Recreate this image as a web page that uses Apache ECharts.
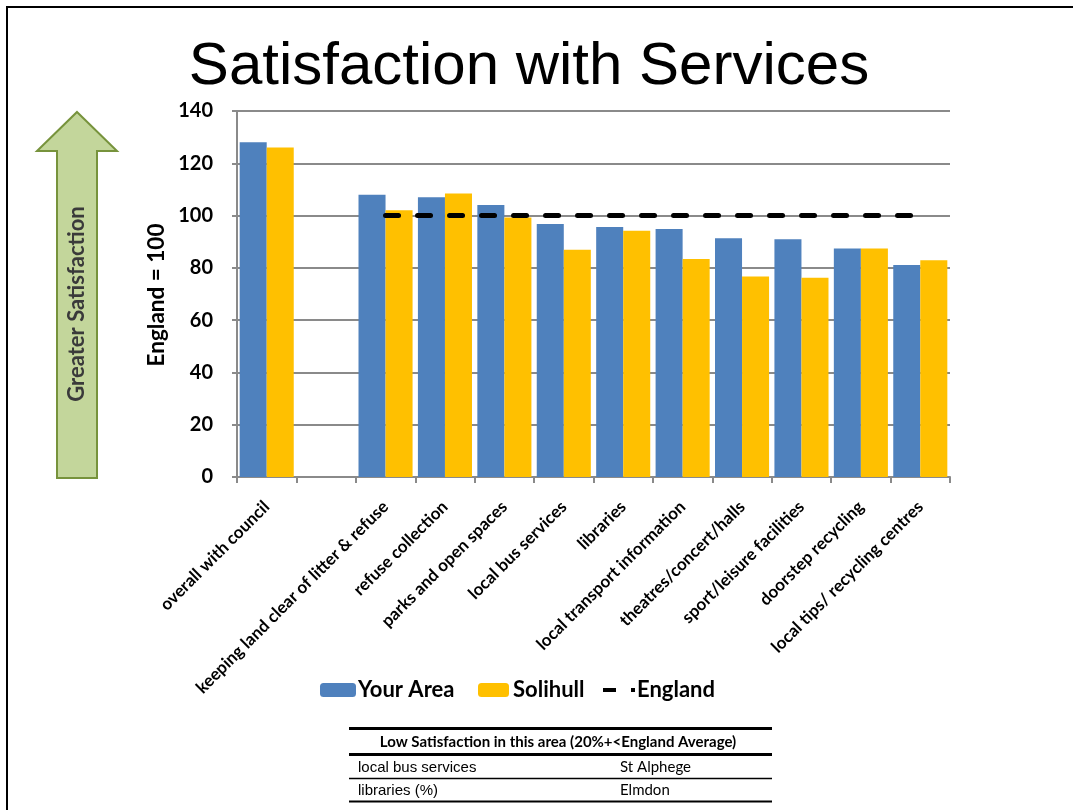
<!DOCTYPE html>
<html>
<head>
<meta charset="utf-8">
<title>Satisfaction with Services</title>
<script src="https://cdn.jsdelivr.net/npm/echarts@6/dist/echarts.min.js"></script>
<style>
  html, body { margin: 0; padding: 0; background: #fff; }
  #chart { width: 1073px; height: 810px; }
</style>
</head>
<body>
<div id="chart"></div>
<script>
// Service categories (the blank entry leaves a gap after the overall score)
const categories = [
  'overall with council', '',
  'keeping land clear of litter & refuse', 'refuse collection',
  'parks and open spaces', 'local bus services', 'libraries',
  'local transport information', 'theatres/concert/halls',
  'sport/leisure facilities', 'doorstep recycling',
  'local tips/ recycling centres'
];
// Index values, England = 100
const yourArea = [128, null, 108, 107, 104, 96.8, 95.6, 94.9, 91.3, 90.9, 87.4, 81.1];
const solihull = [126, null, 102, 108.4, 99.3, 86.9, 94.2, 83.4, 76.7, 76.2, 87.4, 82.9];
const england  = [null, null, 100, 100, 100, 100, 100, 100, 100, 100, 100, 100];

// Low-satisfaction table below the chart
const tableTitle = 'Low Satisfaction in this area (20%+<England Average)';
const tableRows = [
  ['local bus services', 'St Alphege'],
  ['libraries (%)', 'Elmdon']
];

const chart = echarts.init(document.getElementById('chart'), null, { renderer: 'canvas' });

const labelFont = 'Lato, "Open Sans", sans-serif';
const gridColor = '#8a8a8a';

// Table graphics
const tX0 = 349, tX1 = 772;
const tableGraphics = [
  { type: 'line', shape: { x1: tX0, y1: 728.5, x2: tX1, y2: 728.5 }, style: { stroke: '#000', lineWidth: 3 } },
  { type: 'text', style: { x: 558, y: 742, text: tableTitle, align: 'center', verticalAlign: 'middle',
      font: 'bold 15px ' + labelFont, fill: '#000' } },
  { type: 'line', shape: { x1: tX0, y1: 754.5, x2: tX1, y2: 754.5 }, style: { stroke: '#000', lineWidth: 3 } }
];
const rowY = [768, 791];
const rowLineY = [778.5, 801.5];
tableRows.forEach((row, i) => {
  tableGraphics.push(
    { type: 'text', style: { x: 358, y: rowY[i], text: row[0], align: 'left', verticalAlign: 'middle',
        font: '15px "Liberation Sans", Arial, sans-serif', fill: '#000' } },
    { type: 'text', style: { x: 620, y: rowY[i] - 1, text: row[1], align: 'left', verticalAlign: 'middle',
        font: '15px ' + labelFont, fill: '#000' } },
    { type: 'line', shape: { x1: tX0, y1: rowLineY[i], x2: tX1, y2: rowLineY[i] },
      style: { stroke: '#000', lineWidth: i === tableRows.length - 1 ? 2 : 1.5 } }
  );
});

const legendText = { fontFamily: labelFont, fontWeight: 'bold', fontSize: 22, color: '#000' };

const option = {
  backgroundColor: '#fff',
  animation: false,
  grid: { left: 237, right: 123, top: 111, bottom: 333, containLabel: false },
  xAxis: {
    type: 'category',
    data: categories,
    boundaryGap: true,
    axisLine: { lineStyle: { color: gridColor, width: 2 } },
    axisTick: { show: true, length: 6, lineStyle: { color: gridColor, width: 2 } },
    axisLabel: {
      interval: 0, rotate: 45, margin: 27,
      fontFamily: labelFont, fontWeight: 'bold', fontSize: 17, color: '#000'
    },
    splitLine: { show: false }
  },
  yAxis: {
    type: 'value',
    min: 0, max: 140, interval: 20,
    axisLine: { show: true, lineStyle: { color: gridColor, width: 2 } },
    axisTick: { show: true, length: 5, lineStyle: { color: gridColor, width: 2 } },
    axisLabel: { margin: 24, fontFamily: labelFont, fontWeight: 'bold', fontSize: 20, color: '#000' },
    splitLine: { show: true, lineStyle: { color: gridColor, width: 2 } }
  },
  legend: [
    {
      data: ['Your Area'], left: 315, top: 674, itemWidth: 36, itemHeight: 14, itemGap: 0,
      textStyle: Object.assign({ padding: [0, 0, 0, -3] }, legendText)
    },
    {
      data: ['Solihull'], left: 473, top: 674, itemWidth: 31, itemHeight: 14, itemGap: 0,
      textStyle: Object.assign({ padding: [0, 0, 0, -1] }, legendText)
    },
    {
      data: [{ name: 'England', icon: 'path://M0,0h13v4h-13z M28,0h4v4h-4z' }],
      left: 598, top: 674, itemWidth: 32, itemHeight: 4, itemGap: 0,
      textStyle: Object.assign({ padding: [0, 0, 0, -3] }, legendText)
    }
  ],
  series: [
    {
      name: 'Your Area', type: 'bar', data: yourArea,
      barGap: '0%', barCategoryGap: '9%',
      itemStyle: { color: '#4f81bd' }
    },
    {
      name: 'Solihull', type: 'bar', data: solihull,
      barGap: '0%', barCategoryGap: '9%',
      itemStyle: { color: '#ffc000' }
    },
    {
      name: 'England', type: 'line', data: england,
      symbol: 'none', showSymbol: false, connectNulls: false, z: 5,
      itemStyle: { color: '#000' },
      lineStyle: { color: '#000', width: 5, type: [13, 19], cap: 'round' }
    }
  ],
  graphic: [
    // page frame
    { type: 'polyline', shape: { points: [[7, 810], [7, 7], [1073, 7]] }, style: { stroke: '#000', lineWidth: 2, fill: null } },
    // title
    { type: 'text', style: { x: 529, y: 67, text: 'Satisfaction with Services', align: 'center', verticalAlign: 'middle',
        font: '60px "Liberation Sans", Arial, sans-serif', fill: '#000' } },
    // upward arrow
    { type: 'polygon', shape: { points: [[77, 112], [117, 151], [97, 151], [97, 478], [57, 478], [57, 151], [37, 151]] },
      style: { fill: '#c3d69b', stroke: '#77933c', lineWidth: 2 } },
    { type: 'text', rotation: Math.PI / 2, x: 77, y: 304,
      style: { x: 0, y: 0, text: 'Greater Satisfaction', align: 'center', verticalAlign: 'middle',
        font: 'bold 22px ' + labelFont, fill: '#3a3a3a' } },
    // y-axis name
    { type: 'text', rotation: Math.PI / 2, x: 157, y: 295,
      style: { x: 0, y: 0, text: 'England = 100', align: 'center', verticalAlign: 'middle',
        font: 'bold 22.5px ' + labelFont, fill: '#000' } }
  ].concat(tableGraphics)
};

chart.setOption(option);
</script>
</body>
</html>
